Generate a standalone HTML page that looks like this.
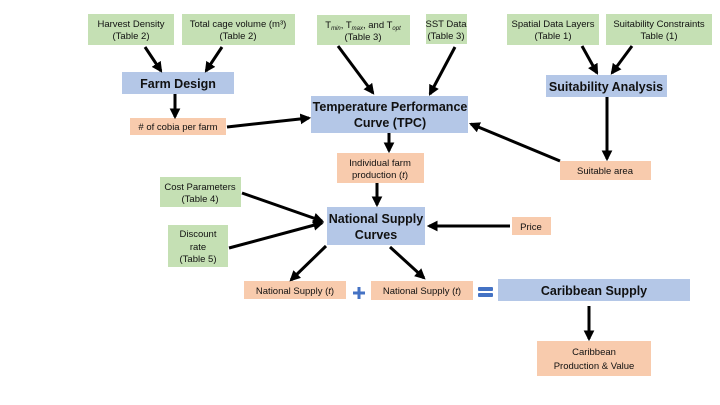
<!DOCTYPE html>
<html><head><meta charset="utf-8"><style>
html,body{margin:0;padding:0;background:#fff;}
svg{display:block;font-family:"Liberation Sans",sans-serif;}
.g{fill:#c5e0b4}.b{fill:#b4c7e7}.o{fill:#f8cbad}
text{fill:#111;text-anchor:middle}
.s{font-size:9.5px}.L{font-size:12.5px;font-weight:bold}
line{stroke:#000;stroke-width:3}
</style></head><body>
<svg width="720" height="405" viewBox="0 0 720 405">
<defs><marker id="a" viewBox="0 0 10 10" refX="8" refY="5" markerWidth="3.6" markerHeight="3.6" orient="auto"><path d="M0,0L10,5L0,10z" fill="#000"/></marker></defs>
<rect class="g" x="88" y="14" width="86" height="31"/>
<text class="s" x="131" y="27">Harvest Density</text><text class="s" x="131" y="39">(Table 2)</text>
<rect class="g" x="182" y="14" width="113" height="31"/>
<text class="s" x="238" y="27">Total cage volume (m³)</text><text class="s" x="238" y="39">(Table 2)</text>
<rect class="b" x="122" y="72" width="112" height="22"/>
<text class="L" x="178" y="88">Farm Design</text>
<rect class="o" x="130" y="118" width="96" height="17"/>
<text class="s" x="178" y="130">&#35; of cobia per farm</text>
<rect class="g" x="317" y="15" width="93" height="30"/>
<text class="s" x="363" y="28">T<tspan font-size="6" font-style="italic" dy="2">min</tspan><tspan dy="-2">, T</tspan><tspan font-size="6" font-style="italic" dy="2">max</tspan><tspan dy="-2">, and T</tspan><tspan font-size="6" font-style="italic" dy="2">opt</tspan></text>
<text class="s" x="363" y="40">(Table 3)</text>
<rect class="g" x="426" y="14" width="41" height="30"/>
<text class="s" x="446" y="27">SST Data</text><text class="s" x="446" y="39">(Table 3)</text>
<rect class="b" x="311" y="96" width="157" height="37"/>
<text class="L" x="390" y="111">Temperature Performance</text><text class="L" x="390" y="127">Curve (TPC)</text>
<rect class="g" x="507" y="14" width="92" height="31"/>
<text class="s" x="553" y="27">Spatial Data Layers</text><text class="s" x="553" y="39">(Table 1)</text>
<rect class="g" x="606" y="14" width="106" height="31"/>
<text class="s" x="659" y="27">Suitability Constraints</text><text class="s" x="659" y="39">Table (1)</text>
<rect class="b" x="546" y="75" width="121" height="22"/>
<text class="L" x="606" y="91">Suitability Analysis</text>
<rect class="o" x="560" y="161" width="91" height="19"/>
<text class="s" x="605" y="174">Suitable area</text>
<rect class="o" x="337" y="153" width="87" height="30"/>
<text class="s" x="380" y="166">Individual farm</text><text class="s" x="380" y="178">production (<tspan font-style="italic">t</tspan>)</text>
<rect class="g" x="160" y="177" width="81" height="30"/>
<text class="s" x="200" y="190">Cost Parameters</text><text class="s" x="200" y="202">(Table 4)</text>
<rect class="g" x="168" y="225" width="60" height="42"/>
<text class="s" x="198" y="237">Discount</text><text class="s" x="198" y="250">rate</text><text class="s" x="198" y="262">(Table 5)</text>
<rect class="b" x="327" y="207" width="98" height="38"/>
<text class="L" x="376" y="223">National Supply</text><text class="L" x="376" y="239">Curves</text>
<rect class="o" x="512" y="217" width="39" height="18"/>
<text class="s" x="531" y="230">Price</text>
<rect class="o" x="244" y="281" width="102" height="18"/>
<text class="s" x="295" y="294">National Supply (<tspan font-style="italic">t</tspan>)</text>
<path d="M353,291.5h4.5v-4.5h3v4.5h4.5v3h-4.5v4.5h-3v-4.5h-4.5z" fill="#4472c4"/>
<rect class="o" x="371" y="281" width="102" height="19"/>
<text class="s" x="422" y="294">National Supply (<tspan font-style="italic">t</tspan>)</text>
<rect x="478" y="287" width="15" height="4" rx="1" fill="#4472c4"/><rect x="478" y="293" width="15" height="4" rx="1" fill="#4472c4"/>
<rect class="b" x="498" y="279" width="192" height="22"/>
<text class="L" x="594" y="295">Caribbean Supply</text>
<rect class="o" x="537" y="341" width="114" height="35"/>
<text class="s" x="594" y="355">Caribbean</text><text class="s" x="594" y="369">Production &amp; Value</text>
<g marker-end="url(#a)">
<line x1="145" y1="47" x2="161" y2="71"/>
<line x1="222" y1="47" x2="206" y2="71"/>
<line x1="175" y1="94" x2="175" y2="117"/>
<line x1="227" y1="127" x2="309" y2="118"/>
<line x1="338" y1="46" x2="373" y2="93"/>
<line x1="455" y1="47" x2="430" y2="94"/>
<line x1="582" y1="46" x2="597" y2="73"/>
<line x1="632" y1="46" x2="612" y2="73"/>
<line x1="607" y1="97" x2="607" y2="159"/>
<line x1="560" y1="161" x2="471" y2="124"/>
<line x1="389" y1="133" x2="389" y2="151"/>
<line x1="377" y1="183" x2="377" y2="205"/>
<line x1="242" y1="193" x2="322" y2="221"/>
<line x1="229" y1="248" x2="322" y2="223"/>
<line x1="510" y1="226" x2="429" y2="226"/>
<line x1="326" y1="246" x2="291" y2="280"/>
<line x1="390" y1="247" x2="424" y2="278"/>
<line x1="589" y1="306" x2="589" y2="339"/>
</g>
</svg>
</body></html>
